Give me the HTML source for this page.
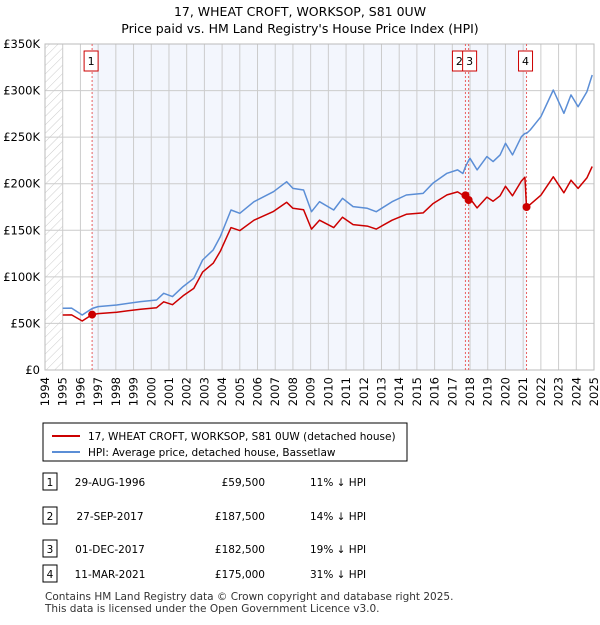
<!DOCTYPE html>
<html><head><meta charset="utf-8"><style>
body{margin:0;background:#fff;font-family:"Liberation Sans","DejaVu Sans",sans-serif;}
svg text{font-family:"DejaVu Sans","Liberation Sans",sans-serif;}
</style></head><body>
<svg id="chart" width="600" height="620" viewBox="0 0 600 620" xmlns="http://www.w3.org/2000/svg">
<defs><pattern id="hatch" width="6" height="6" patternUnits="userSpaceOnUse" patternTransform="rotate(45)"><line x1="0" y1="0" x2="0" y2="6" stroke="#ccc" stroke-width="1"/></pattern></defs>
<text x="300" y="16" text-anchor="middle" font-size="12.5">17, WHEAT CROFT, WORKSOP, S81 0UW</text>
<text x="300" y="33" text-anchor="middle" font-size="12.5">Price paid vs. HM Land Registry's House Price Index (HPI)</text>
<g id="plot"></g>
<g>
<rect x="43" y="423" width="364" height="38" fill="#fff" stroke="#000" stroke-width="1"/>
<line x1="52" y1="436" x2="80" y2="436" stroke="#cc0000" stroke-width="2"/>
<text x="88" y="440" font-size="10.5">17, WHEAT CROFT, WORKSOP, S81 0UW (detached house)</text>
<line x1="52" y1="452" x2="80" y2="452" stroke="#5b8ed6" stroke-width="2"/>
<text x="88" y="456" font-size="10.5">HPI: Average price, detached house, Bassetlaw</text>
</g>
<g id="table" font-size="10.5"></g>
<text x="45" y="600" font-size="10.5" fill="#333">Contains HM Land Registry data © Crown copyright and database right 2025.</text>
<text x="45" y="612" font-size="10.5" fill="#333">This data is licensed under the Open Government Licence v3.0.</text>
</svg>
<script>
const hpiYears=[1995.0,1995.5,1996.1,1996.66,1997.0,1998.05,1999.4,2000.3,2000.7,2001.2,2001.8,2002.4,2002.9,2003.5,2003.9,2004.5,2005.0,2005.8,2006.9,2007.65,2008.0,2008.6,2009.05,2009.5,2010.3,2010.8,2011.4,2012.2,2012.7,2013.6,2014.4,2015.35,2015.9,2016.7,2017.3,2017.6,2017.74,2017.92,2018.0,2018.4,2018.95,2019.3,2019.7,2020.0,2020.4,2020.9,2021.1,2021.19,2021.4,2022.0,2022.7,2023.3,2023.7,2024.1,2024.6,2024.9];
const hpiValues=[66.3,66.5,59.1,66,68.1,69.8,73.4,75.2,82.3,78.8,89.5,98.4,118.1,128.9,143.2,171.8,168.2,180.7,191.4,202.2,195,193.2,170,180.7,171.8,184.3,175.4,173.6,170,180.7,187.9,189.6,200.4,211.2,214.8,211,218,225,227.3,214.8,229.1,223.7,230.9,243.4,230.9,250.5,254,254,257.7,272,300.6,275.6,295.3,282.7,298.8,316.7];
const priceValues=[59,59.2,52.6,59.5,60.6,62.1,65.3,66.9,73.2,70.1,79.7,87.6,105.1,114.7,127.4,152.9,149.7,160.8,170.3,180,173.6,172,151.3,160.8,152.9,164,156.1,154.5,151.3,160.8,167.2,168.7,178.4,188,191.2,187.8,187.5,182.5,184.1,174,185.6,181.2,187,197.2,187,202.9,207,175,177.8,187.7,207.4,190.2,203.8,195,206.2,218.5];
const saleLabels=["1","2","3","4"];
const saleYears=[1996.66,2017.74,2017.92,2021.19];
const salePrices=[59.5,187.5,182.5,175];
const saleDates=["29-AUG-1996","27-SEP-2017","01-DEC-2017","11-MAR-2021"];
const salePriceText=["£59,500","£187,500","£182,500","£175,000"];
const saleHpiText=["11% ↓ HPI","14% ↓ HPI","19% ↓ HPI","31% ↓ HPI"];
const yTicks=[0,50,100,150,200,250,300,350];
const yTickLabels=["£0","£50K","£100K","£150K","£200K","£250K","£300K","£350K"];
const xTicks=[1994,1995,1996,1997,1998,1999,2000,2001,2002,2003,2004,2005,2006,2007,2008,2009,2010,2011,2012,2013,2014,2015,2016,2017,2018,2019,2020,2021,2022,2023,2024,2025];

const X0=45,X1=594,Y0=370,Y1=44;
const xs=y=>X0+(y-1994)/(2025-1994)*(X1-X0);
const ys=v=>Y0-v/350*(Y0-Y1);
const NS="http://www.w3.org/2000/svg";
const plot=document.getElementById('plot');
function mk(tag,attrs,parent){const e=document.createElementNS(NS,tag);for(const k in attrs)e.setAttribute(k,attrs[k]);(parent||plot).appendChild(e);return e;}

let r=mk('rect',{x:X0,y:Y1,width:X1-X0,height:Y0-Y1,fill:'#fff'});


r=mk('rect',{x:X0,y:Y1,width:xs(1995)-X0,height:Y0-Y1,fill:'url(#hatch)'});


r=mk('rect',{x:xs(saleYears[0]),y:Y1,width:xs(saleYears[3])-xs(saleYears[0]),height:Y0-Y1,fill:'#f3f6fd'});



xTicks.forEach(t=>{
 const l=mk('line',{x1:xs(t),x2:xs(t),y1:Y1,y2:Y0,stroke:'#ccc','stroke-width':1});
 
 
 const tx=mk('text',{x:0,y:0,'font-size':11.5,'text-anchor':'end',transform:`translate(${xs(t)+4},377) rotate(-90)`});
 tx.textContent=t;
 
 
});
yTicks.forEach((t,i)=>{
 const l=mk('line',{x1:X0,x2:X1,y1:ys(t),y2:ys(t),stroke:'#ccc','stroke-width':1});
 
 
 const tx=mk('text',{x:40,y:ys(t)+4,'font-size':11.5,'text-anchor':'end'});
 tx.textContent=yTickLabels[i];
 
 
});
r=mk('rect',{x:X0,y:Y1,width:X1-X0,height:Y0-Y1,fill:'none',stroke:'#bbb'});



saleYears.forEach((s,i)=>{
 const l=mk('line',{x1:xs(s),x2:xs(s),y1:Y1,y2:Y0,stroke:'#e86060','stroke-width':1,'stroke-dasharray':'2,2'});
 
 
});

function path(vals,color,name){
 const d=hpiYears.map((y,i)=>(i?'L':'M')+xs(y).toFixed(1)+','+ys(vals[i]).toFixed(1)).join(' ');
 const p=mk('path',{d,fill:'none',stroke:color,'stroke-width':1.5,'stroke-linejoin':'round'});
 
 
}
path(hpiValues,'#5b8ed6','hpi-line');
path(priceValues,'#cc0000','price-paid-line');

const boxOffset=[-8,-13,-6,-8];
saleYears.forEach((s,i)=>{
 const c=mk('circle',{cx:xs(s),cy:ys(salePrices[i]),r:4,fill:'#cc0000'});
 
 
 const bx=xs(s)+boxOffset[i];
 const b=mk('rect',{x:bx,y:51,width:14,height:20,fill:'#fff',stroke:'#cc0000'});
 
 
 const t=mk('text',{x:bx+7,y:65,'font-size':11,'text-anchor':'middle'});
 t.textContent=saleLabels[i];
 
 
});

const tbl=document.getElementById('table');
const rowY=[482,516,549,574];
saleLabels.forEach((s,i)=>{
 const y=rowY[i];
 const b=mk('rect',{x:43,y:y-9,width:14,height:17,fill:'#fff',stroke:'#000'},tbl);
 
 
 const cells=[[50,s,'middle'],[110,saleDates[i],'middle'],[265,salePriceText[i],'end'],[310,saleHpiText[i],'start']];
 cells.forEach(c=>{
  const t=mk('text',{x:c[0],y:y+4,'text-anchor':c[2]},tbl);
  t.textContent=c[1];
  
  
 });
});
</script>
</body></html>
